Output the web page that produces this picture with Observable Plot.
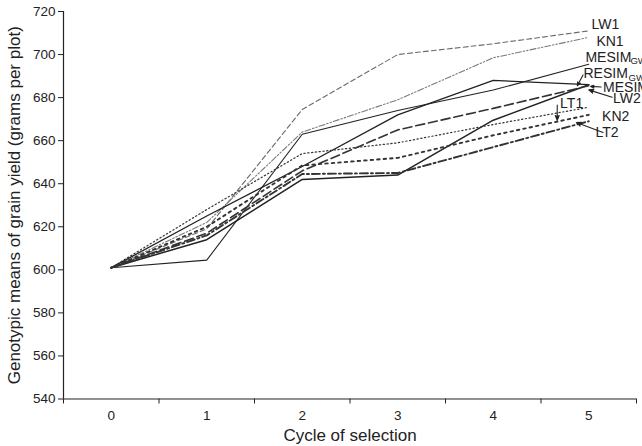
<!DOCTYPE html>
<html>
<head>
<meta charset="utf-8">
<script src="https://cdn.jsdelivr.net/npm/d3@7"></script>
<script src="https://cdn.jsdelivr.net/npm/@observablehq/plot@0.6"></script>
<style>
  html, body { margin: 0; padding: 0; background: #fff; }
  #chart svg { display: block; }
</style>
</head>
<body>
<div id="chart"></div>
<script>
// ---- data ----
const cycles = [0, 1, 2, 3, 4, 5];
const yTicks = [540, 560, 580, 600, 620, 640, 660, 680, 700, 720];

const LW1      = [601, 619, 674.5, 700, 705, 711];
const KN1      = [601, 622, 664, 679, 698.5, 708];
const MESIM_GW = [601, 604.5, 663, 674, 683.5, 695.5];
const RESIM_GW = [601, 625, 648, 672, 688, 686];
const MESIM    = [601, 614, 642, 644, 669.5, 686];
const LW2      = [601, 617, 646, 665, 675, 685.5];
const LT1      = [601, 628, 654, 659, 667.5, 675.5];
const KN2      = [601, 620, 648.5, 652, 662.5, 672];
const LT2      = [601, 616, 644.5, 645, 657, 669];

const seriesNames = ["LW1", "KN1", "MESIM_GW", "RESIM_GW", "MESIM", "LW2", "LT1", "KN2", "LT2"];
const seriesValues = [LW1, KN1, MESIM_GW, RESIM_GW, MESIM, LW2, LT1, KN2, LT2];

// label annotations (data coordinates)
const labelText = ["LW1", "KN1", "MESIM", "RESIM", "MESIM", "LW2", "LT1", "KN2", "LT2"];
const labelX    = [5.03, 5.08, 4.965, 4.945, 5.15, 5.255, 4.70, 5.14, 5.07];
const labelY    = [714, 706.2, 698.8, 691.2, 684.9, 679.7, 677.3, 671, 663.7];
const subText   = ["GW", "GW"];
const subX      = [4.965, 4.945];
const subY      = [698.8, 691.2];

// leader arrows (data coordinates: from -> to)
const arrowX1 = [4.94, 5.13, 5.245, 5.15, 4.67];
const arrowY1 = [690.5, 684.9, 680.2, 663.8, 676.5];
const arrowX2 = [4.88, 5.02, 5.0, 4.87, 4.67];
const arrowY2 = [685.5, 685.2, 683.6, 668.4, 669.5];

// ---- styles per series ----
const styles = {
  LW1:      {stroke: "#6a6a6a", strokeWidth: 1.1, strokeDasharray: "5,3"},
  KN1:      {stroke: "#7a7a7a", strokeWidth: 1.1, strokeDasharray: "6,2,1.5,2,1.5,2"},
  MESIM_GW: {stroke: "#222", strokeWidth: 1.1},
  RESIM_GW: {stroke: "#222", strokeWidth: 1.3},
  MESIM:    {stroke: "#222", strokeWidth: 1.5},
  LW2:      {stroke: "#333", strokeWidth: 1.6, strokeDasharray: "9,4"},
  LT1:      {stroke: "#333", strokeWidth: 1.2, strokeDasharray: "1.3,2.5"},
  KN2:      {stroke: "#333", strokeWidth: 1.9, strokeDasharray: "2.5,4"},
  LT2:      {stroke: "#333", strokeWidth: 1.9, strokeDasharray: "8,3,2,3"}
};

const lineMarks = seriesNames.map((name, i) =>
  Plot.line(cycles.map((c, j) => ({cycle: c, value: seriesValues[i][j]})), {
    x: "cycle", y: "value", ...styles[name], strokeLinejoin: "miter"
  })
);

const labels = labelText.map((t, i) => ({t, x: labelX[i], y: labelY[i]}));
const subs = subText.map((t, i) => ({t, x: subX[i], y: subY[i]}));
const arrows = arrowX1.map((x1, i) => ({x1, y1: arrowY1[i], x2: arrowX2[i], y2: arrowY2[i]}));
const boundaries = [-0.5, 0.5, 1.5, 2.5, 3.5, 4.5, 5.5];

const fontMain = "'Liberation Sans', Arial, Helvetica, sans-serif";

const chart = Plot.plot({
  width: 642,
  height: 446,
  marginLeft: 63,
  marginRight: 6,
  marginTop: 11,
  marginBottom: 47.5,
  style: {fontFamily: fontMain, fontSize: "13px", color: "#222", background: "#fff"},
  x: {domain: [-0.5, 5.5]},
  y: {domain: [540, 720]},
  marks: [
    Plot.axisY({ticks: yTicks, tickSize: 5, tickPadding: 3, fontSize: 13.5,
      label: "Genotypic means of grain yield (grams per plot)", labelAnchor: "center",
      labelArrow: "none", labelOffset: 56}),
    Plot.axisX({ticks: cycles, tickSize: 0, tickPadding: 11, fontSize: 13.5, tickFormat: d3.format("d"),
      label: "Cycle of selection", labelAnchor: "center", labelArrow: "none", labelOffset: 42}),
    Plot.axisX({ticks: boundaries, tickSize: 5, tickFormat: () => "", label: null}),
    Plot.ruleY([540], {stroke: "#222", strokeWidth: 1.2}),
    Plot.ruleX([-0.5], {stroke: "#222", strokeWidth: 1.2}),
    ...lineMarks,
    Plot.arrow(arrows, {x1: "x1", y1: "y1", x2: "x2", y2: "y2", stroke: "#222", fill: "#222",
      strokeWidth: 1.1, headLength: 7, headAngle: 45}),
    Plot.text(labels, {x: "x", y: "y", text: "t", textAnchor: "start", fontSize: 14, fill: "#222"}),
    Plot.text(subs, {x: "x", y: "y", text: "t", textAnchor: "start", fontSize: 9.5,
      fill: "#222", dx: 45, dy: 4})
  ]
});

// enlarge axis titles
chart.querySelectorAll("g[aria-label='y-axis label'] text, g[aria-label='x-axis label'] text")
  .forEach(t => t.setAttribute("font-size", "17px"));

document.getElementById("chart").appendChild(chart);
</script>
</body>
</html>
